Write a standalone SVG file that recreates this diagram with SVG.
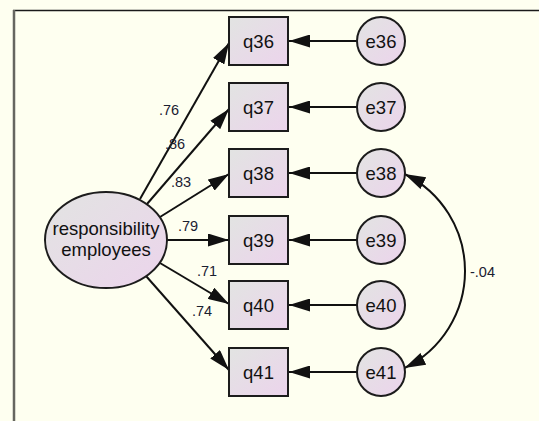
<svg xmlns="http://www.w3.org/2000/svg" width="539" height="421" viewBox="0 0 539 421">
  <defs>
    <linearGradient id="nodeFill" x1="0" y1="0" x2="1" y2="1">
      <stop offset="0" stop-color="#e2e4e2"/>
      <stop offset="1" stop-color="#ecd4ec"/>
    </linearGradient>
    <marker id="arrow" markerUnits="userSpaceOnUse" viewBox="0 0 21 13" refX="21" refY="6.5" markerWidth="21" markerHeight="13" orient="auto-start-reverse">
      <path d="M0,0 L21,6.5 L0,13 Z" fill="#111"/>
    </marker>
    <style>
      .node { fill: url(#nodeFill); stroke: #1c1c1c; stroke-width: 2; }
      .lbl { font-family: "Liberation Sans", Arial, sans-serif; font-size: 18.5px; fill: #111; text-anchor: middle; }
      .coef { font-family: "Liberation Sans", Arial, sans-serif; font-size: 14.5px; fill: #1a2030; }
      .path { fill: none; stroke: #111; stroke-width: 2; marker-end: url(#arrow); }
    </style>
  </defs>

  <rect x="0" y="0" width="539" height="421" fill="#fefff0"/>
  <line x1="13" y1="10.5" x2="539" y2="10.5" stroke="#1a1a1a" stroke-width="1.5"/>
  <line x1="14" y1="10" x2="14" y2="421" stroke="#666660" stroke-width="2.5"/>

  <g id="connectors">
    <path class="path" d="M140,199 L229,43"/>
    <path class="path" d="M147,204 L229,109"/>
    <path class="path" d="M160,217 L229,174"/>
    <path class="path" d="M167,240 L229,240"/>
    <path class="path" d="M160,263 L229,304"/>
    <path class="path" d="M146,276 L229,370"/>
    <path class="path" d="M357,41 L289,41"/>
    <path class="path" d="M357,107 L289,107"/>
    <path class="path" d="M357,173 L289,173"/>
    <path class="path" d="M357,240 L289,240"/>
    <path class="path" d="M357,305 L289,305"/>
    <path class="path" d="M357,372 L289,372"/>
    <path class="path" d="M404.5,174 A108,108 0 0 1 404.5,368" marker-start="url(#arrow)"/>
    <text class="coef" x="159" y="115">.76</text>
    <text class="coef" x="165" y="149">.86</text>
    <text class="coef" x="171" y="187">.83</text>
    <text class="coef" x="178" y="231">.79</text>
    <text class="coef" x="197" y="276">.71</text>
    <text class="coef" x="192" y="316">.74</text>
    <text class="coef" x="470" y="277">-.04</text>
  </g>

  <g id="responsibility_employees">
    <ellipse class="node" cx="106" cy="240" rx="61" ry="48"/>
    <text class="lbl" x="106" y="235">responsibility</text>
    <text class="lbl" x="106" y="256">employees</text>
  </g>

  <g id="q36"><rect class="node" x="229" y="17" width="59" height="48"/><text class="lbl" x="258.5" y="47.5">q36</text></g>
  <g id="q37"><rect class="node" x="229" y="83" width="59" height="48"/><text class="lbl" x="258.5" y="113.5">q37</text></g>
  <g id="q38"><rect class="node" x="229" y="149" width="59" height="48"/><text class="lbl" x="258.5" y="179.5">q38</text></g>
  <g id="q39"><rect class="node" x="229" y="216" width="59" height="48"/><text class="lbl" x="258.5" y="246.5">q39</text></g>
  <g id="q40"><rect class="node" x="229" y="281" width="59" height="48"/><text class="lbl" x="258.5" y="311.5">q40</text></g>
  <g id="q41"><rect class="node" x="229" y="348" width="59" height="48"/><text class="lbl" x="258.5" y="378.5">q41</text></g>

  <g id="e36"><circle class="node" cx="381" cy="41" r="24"/><text class="lbl" x="381" y="47.5">e36</text></g>
  <g id="e37"><circle class="node" cx="381" cy="107" r="24"/><text class="lbl" x="381" y="113.5">e37</text></g>
  <g id="e38"><circle class="node" cx="381" cy="173" r="24"/><text class="lbl" x="381" y="179.5">e38</text></g>
  <g id="e39"><circle class="node" cx="381" cy="240" r="24"/><text class="lbl" x="381" y="246.5">e39</text></g>
  <g id="e40"><circle class="node" cx="381" cy="305" r="24"/><text class="lbl" x="381" y="311.5">e40</text></g>
  <g id="e41"><circle class="node" cx="381" cy="372" r="24"/><text class="lbl" x="381" y="378.5">e41</text></g>
</svg>
